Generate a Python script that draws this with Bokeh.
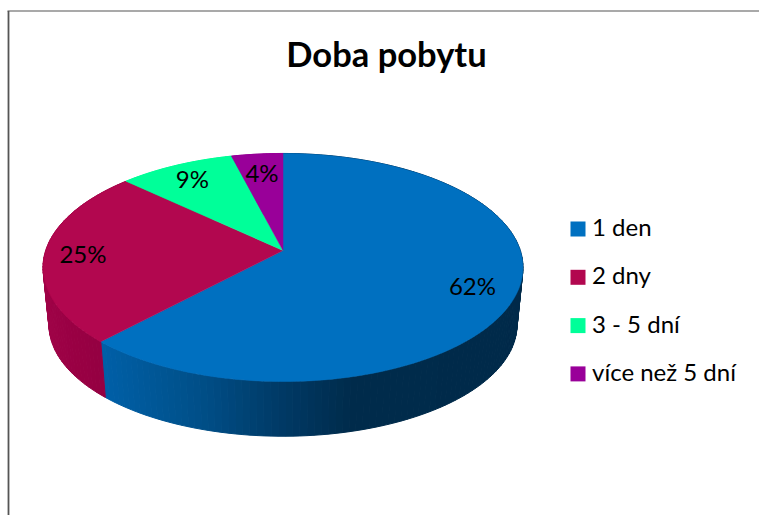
import numpy as np
from bokeh.plotting import figure
from bokeh.models import Range1d
from bokeh.core.properties import value
from bokeh.embed import file_html
from bokeh.resources import INLINE

title = "Doba pobytu"
categories = ["1 den", "2 dny", "3 - 5 dní", "více než 5 dní"]
shares = [62, 25, 9, 4]
colors = ["#0070C0", "#B2074F", "#00FF99", "#990099"]
labels = ["62%", "25%", "9%", "4%"]

FONT = "Lato"
CX, CY = 282.5, 250.0
A, B, K = 237.3, 111.5, 0.149
SCALE, CY_BOTTOM = 0.975, 308.0
LABEL_R = [0.82, 0.84, 0.83, 0.79]


def project(theta, r=1.0, s=1.0, cy=CY):
    u, v = r * np.sin(theta), r * np.cos(theta)
    w = 1 + K * v
    return CX + s * A * u / w, cy - s * B * v / w


def side_color(i, x):
    if i == 0:
        xs = [100, 200, 280, 350, 530]
        r = [0, 0, 0, 0, 0]
        g = [96, 79, 58, 44, 42]
        b = [168, 136, 102, 76, 74]
    elif i == 1:
        xs = [40, 70, 105]
        r, g, b = [160, 154, 148], [4, 0, 0], [72, 68, 66]
    else:
        c = colors[i]
        return c
    return "#%02x%02x%02x" % (int(np.interp(x, xs, r)), int(np.interp(x, xs, g)), int(np.interp(x, xs, b)))


p = figure(width=759, height=515, x_range=Range1d(0, 759), y_range=Range1d(515, 0),
           output_backend="svg", toolbar_location=None, min_border=0)
p.axis.visible = False
p.grid.visible = False
p.outline_line_color = None

# frame
p.line([8, 8], [10.5, 515], line_color="#555555", line_width=1.8)
p.line([7, 759], [10.5, 10.5], line_color="#555555", line_width=1.2)

edges = np.cumsum([0] + shares) / sum(shares) * 2 * np.pi

# side wall
for i in range(len(shares)):
    n = max(2, int(np.degrees(edges[i + 1] - edges[i]) / 1.5))
    th = np.linspace(edges[i], edges[i + 1], n + 1)
    xt, yt = project(th)
    xb, yb = project(th, s=SCALE, cy=CY_BOTTOM)
    pxs, pys, cols = [], [], []
    for j in range(n):
        pxs.append([xt[j], xt[j + 1], xb[j + 1], xb[j]])
        pys.append([yt[j], yt[j + 1], yb[j + 1], yb[j]])
        cols.append(side_color(i, (xt[j] + xt[j + 1]) / 2))
    p.patches(pxs, pys, fill_color=cols, line_color=cols, line_width=1)

# top face
for i in range(len(shares)):
    th = np.linspace(edges[i], edges[i + 1], 200)
    xt, yt = project(th)
    p.patch(np.r_[CX, xt], np.r_[CY, yt], fill_color=colors[i], line_color=colors[i], line_width=0.5)

# data labels
mid = (edges[:-1] + edges[1:]) / 2
lx, ly = project(mid, r=np.array(LABEL_R))
p.text(lx, ly, text=labels, text_align="center", text_baseline="middle",
       text_font=value(FONT), text_font_size="24px", text_color="#000000")

# title
p.text([386], [53], text=[title], text_align="center", text_baseline="middle",
       text_font=value(FONT), text_font_style="bold", text_font_size="34.5px", text_color="#000000")

# legend
ley = [228.5 + 48.3 * i for i in range(len(categories))]
p.scatter([577.5] * len(categories), ley, marker="square", size=15, fill_color=colors, line_color=None)
p.text([591.5] * len(categories), [y - 2.5 for y in ley], text=categories, text_align="left", text_baseline="middle",
       text_font=value(FONT), text_font_size="24px", text_color="#000000")

open("out.html", "w").write(file_html(p, INLINE))
